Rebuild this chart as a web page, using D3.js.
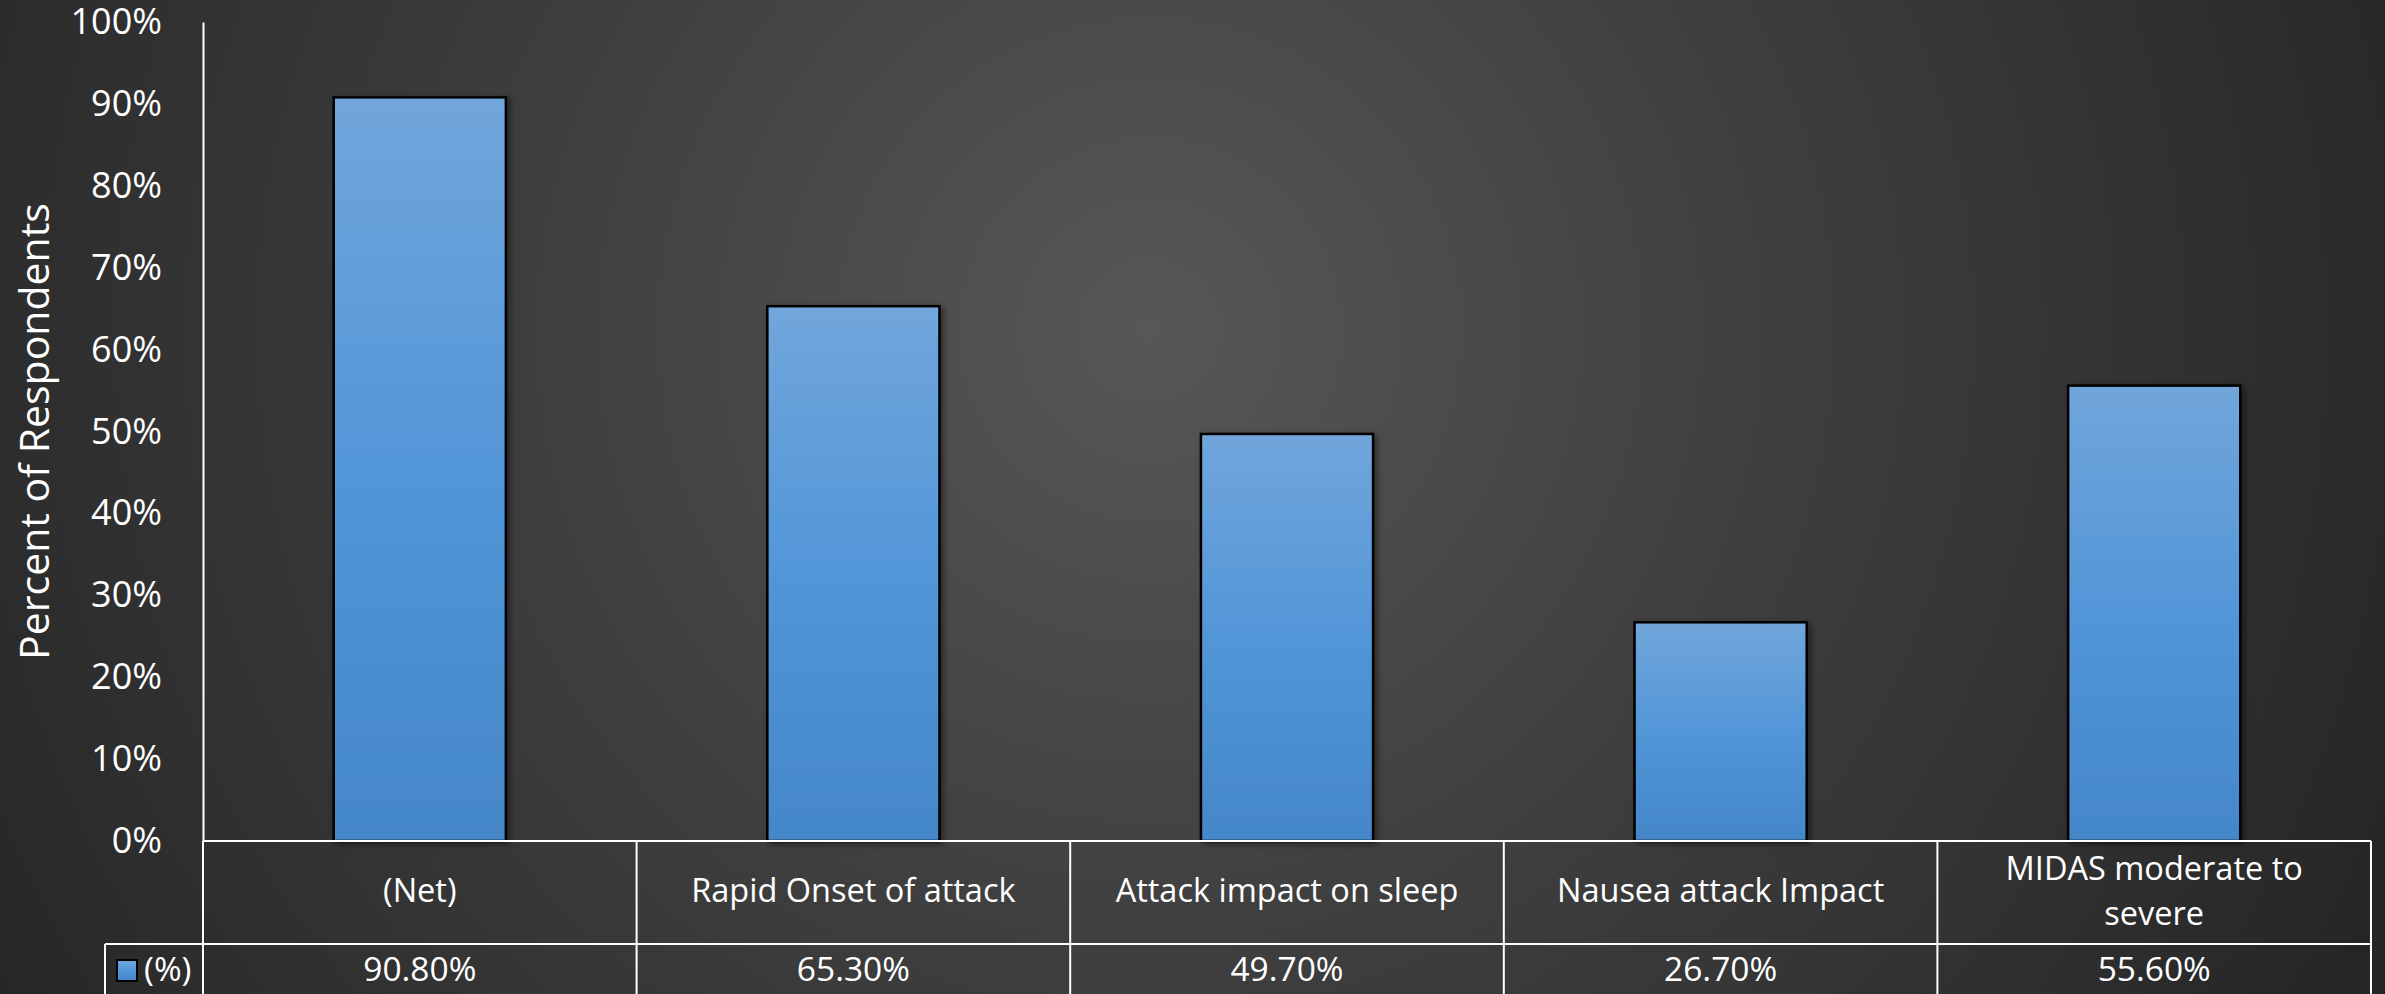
<!DOCTYPE html>
<html lang="en">
<head>
<meta charset="utf-8">
<title>Percent of Respondents</title>
<script src="https://cdn.jsdelivr.net/npm/d3@7/dist/d3.min.js"></script>
<style>
  html, body { margin: 0; padding: 0; background: #2b2b2b; }
  svg { display: block; }
  text { font-family: "Open Sans", sans-serif; fill: #ffffff; }
</style>
</head>
<body>
<script>
// chart data
var categories = ["(Net)", "Rapid Onset of attack", "Attack impact on sleep", "Nausea attack Impact", "MIDAS moderate to severe"];
var categoryLines = [["(Net)"], ["Rapid Onset of attack"], ["Attack impact on sleep"], ["Nausea attack Impact"], ["MIDAS moderate to", "severe"]];
var values = [90.8, 65.3, 49.7, 26.7, 55.6];
var valueLabels = ["90.80%", "65.30%", "49.70%", "26.70%", "55.60%"];
var yTicks = [0, 10, 20, 30, 40, 50, 60, 70, 80, 90, 100];
var seriesName = "(%)";

var W = 2385, H = 994;
var plotLeft = 203, plotRight = 2371, plotTop = 22, plotBase = 841;
var rowCat = 944, rowEnd = 1010, legendLeft = 105;

var svg = d3.select("body").append("svg")
    .attr("width", W)
    .attr("height", H);

var defs = svg.append("defs");

var bg = defs.append("radialGradient")
    .attr("id", "bg")
    .attr("gradientUnits", "userSpaceOnUse")
    .attr("cx", 1150).attr("cy", 330).attr("r", 1350);
bg.append("stop").attr("offset", "0%").attr("stop-color", "#575757");
bg.append("stop").attr("offset", "45%").attr("stop-color", "#3f3f3f");
bg.append("stop").attr("offset", "100%").attr("stop-color", "#262626");

var barGrad = defs.append("linearGradient")
    .attr("id", "barGrad")
    .attr("x1", 0).attr("y1", 0).attr("x2", 0).attr("y2", 1);
barGrad.append("stop").attr("offset", "0%").attr("stop-color", "#71a6db");
barGrad.append("stop").attr("offset", "50%").attr("stop-color", "#5296d8");
barGrad.append("stop").attr("offset", "100%").attr("stop-color", "#4487c8");

var shadow = defs.append("filter").attr("id", "shadow")
    .attr("x", "-20%").attr("y", "-20%").attr("width", "140%").attr("height", "140%");
shadow.append("feDropShadow")
    .attr("dx", 3).attr("dy", 2).attr("stdDeviation", 3)
    .attr("flood-color", "#000").attr("flood-opacity", 0.45);

svg.append("rect")
    .attr("width", W).attr("height", H)
    .attr("fill", "url(#bg)");

// scales
var y = d3.scaleLinear().domain([0, 100]).range([plotBase, plotTop]);

var cols = d3.scaleBand().domain(categories).range([plotLeft, plotRight]).padding(0);

var x = d3.scaleBand().domain(categories).range([plotLeft, plotRight])
    .paddingInner(0.603).paddingOuter(0.3015);

// bars
svg.append("g").selectAll("rect")
    .data(values)
    .enter().append("rect")
    .attr("x", function(d, i){ return x(categories[i]); })
    .attr("y", function(d){ return y(d); })
    .attr("width", x.bandwidth())
    .attr("height", function(d){ return plotBase - y(d); })
    .attr("fill", "url(#barGrad)")
    .attr("stroke", "#000")
    .attr("stroke-width", 2.5)
    .attr("filter", "url(#shadow)");

// y axis
var yAxis = d3.axisLeft(y)
    .tickValues(yTicks)
    .tickFormat(function(d){ return d + "%"; })
    .tickSizeInner(0)
    .tickSizeOuter(0)
    .tickPadding(41);

var gy = svg.append("g")
    .attr("transform", "translate(" + plotLeft + ",0)")
    .call(yAxis);
gy.select(".domain").attr("stroke", "#fff").attr("stroke-width", 2);
gy.selectAll(".tick text")
    .attr("font-family", "Open Sans, sans-serif")
    .attr("font-size", 36)
    .attr("fill", "#fff");

svg.append("text")
    .attr("transform", "translate(49," + ((plotTop + plotBase) / 2) + ") rotate(-90)")
    .attr("text-anchor", "middle")
    .attr("font-size", 41)
    .text("Percent of Respondents");

// data table
var lines = svg.append("g")
    .attr("stroke", "#fff")
    .attr("stroke-width", 2)
    .attr("fill", "none");

lines.append("line").attr("x1", plotLeft).attr("x2", plotRight).attr("y1", plotBase).attr("y2", plotBase);
lines.append("line").attr("x1", legendLeft).attr("x2", plotRight).attr("y1", rowCat).attr("y2", rowCat);
lines.append("line").attr("x1", legendLeft).attr("x2", legendLeft).attr("y1", rowCat).attr("y2", rowEnd);
lines.append("line").attr("x1", plotRight).attr("x2", plotRight).attr("y1", plotBase).attr("y2", rowEnd);
lines.selectAll("line.col")
    .data(categories)
    .enter().append("line")
    .attr("class", "col")
    .attr("x1", function(d){ return cols(d); })
    .attr("x2", function(d){ return cols(d); })
    .attr("y1", plotBase).attr("y2", rowEnd);

var catG = svg.append("g").selectAll("text")
    .data(categoryLines)
    .enter().append("text")
    .attr("text-anchor", "middle")
    .attr("font-size", 32.5)
    .attr("x", function(d, i){ return cols(categories[i]) + cols.bandwidth() / 2; })
    .attr("y", function(d){ return (plotBase + rowCat) / 2 - 2 - (d.length - 1) * 22; });

catG.selectAll("tspan")
    .data(function(d){ return d; })
    .enter().append("tspan")
    .attr("x", function(){ return d3.select(this.parentNode).attr("x"); })
    .attr("dy", function(d, i){ return i === 0 ? "0.35em" : 45; })
    .text(function(d){ return d; });

svg.append("g").selectAll("text")
    .data(valueLabels)
    .enter().append("text")
    .attr("text-anchor", "middle")
    .attr("font-size", 33.5)
    .attr("x", function(d, i){ return cols(categories[i]) + cols.bandwidth() / 2; })
    .attr("y", 969)
    .attr("dy", "0.35em")
    .text(function(d){ return d; });

// legend key
svg.append("rect")
    .attr("x", 117).attr("y", 960)
    .attr("width", 20).attr("height", 21)
    .attr("fill", "url(#barGrad)")
    .attr("stroke", "#000")
    .attr("stroke-width", 2);

svg.append("text")
    .attr("x", 144).attr("y", 969)
    .attr("dy", "0.35em")
    .attr("font-size", 33.5)
    .text(seriesName);
</script>
</body>
</html>
